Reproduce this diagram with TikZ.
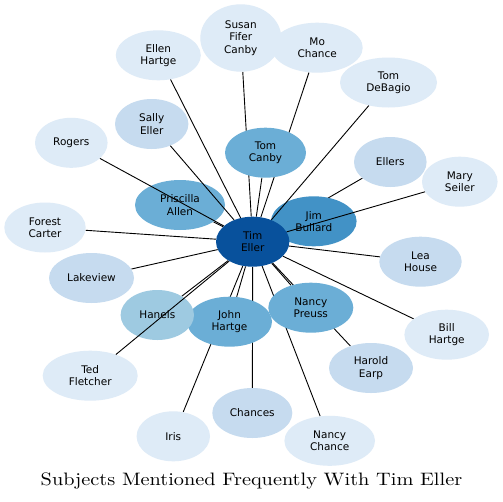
\documentclass[tikz,border=0pt]{standalone}
\usepackage{fontspec}
\newfontfamily\nodefont{DejaVu Sans}
\usetikzlibrary{shapes.geometric}
\pgfdeclarelayer{bg}
\pgfsetlayers{bg,main}
\definecolor{cA}{HTML}{08519C}
\definecolor{cB}{HTML}{4292C6}
\definecolor{cC}{HTML}{6BAED6}
\definecolor{cD}{HTML}{9ECAE1}
\definecolor{cE}{HTML}{C6DBEF}
\definecolor{cF}{HTML}{DEEBF7}
\tikzset{
  ent/.style={ellipse, draw=none, inner sep=0pt, align=center,
    font=\nodefont\fontsize{10.5}{12.3}\selectfont, text=black},
  e37/.style={ent, minimum width=73.4pt, minimum height=50pt},
  e40/.style={ent, minimum width=81pt, minimum height=50pt},
  e42/.style={ent, minimum width=85pt, minimum height=50pt},
  e45/.style={ent, minimum width=90.5pt, minimum height=50pt},
  link/.style={draw=black, line width=0.9pt},
}
\begin{document}
\begin{tikzpicture}[x=1pt,y=-1pt]
\begin{pgfonlayer}{bg}
\path[use as bounding box, fill=white] (0,0) rectangle (503,501);
\end{pgfonlayer}
% nodes
\node[e42, fill=cB, minimum width=85.6pt] (jim) at (313.8,221.3) {Jim\\Bullard};
\node[e37, fill=cA] (tim) at (252.7,241.7) {Tim\\Eller};
\node[e40, fill=cC] (tomc) at (265.5,152.7) {Tom\\Canby};
\node[e45, fill=cC, minimum width=90pt] (pris) at (180,205) {Priscilla\\Allen};
\node[e42, fill=cC] (john) at (229.5,321.7) {John\\Hartge};
\node[e42, fill=cC] (nancyp) at (310.8,307.7) {Nancy\\Preuss};
\node[e37, fill=cD] (hanels) at (157.3,315) {Hanels};
\node[e40, fill=cF, minimum height=67.4pt] (susan) at (240.8,38) {Susan\\Fifer\\Canby};
\node[e42, fill=cF] (ellenh) at (158.3,55.3) {Ellen\\Hartge};
\node[e45, fill=cF, minimum width=91pt] (mo) at (317.2,47.7) {Mo\\Chance};
\node[e45, fill=cF, minimum width=97pt] (debagio) at (388.5,82.5) {Tom\\DeBagio};
\node[e37, fill=cE] (sally) at (151.7,124) {Sally\\Eller};
\node[e37, fill=cF, minimum width=72.6pt] (rogers) at (71.3,142.8) {Rogers};
\node[e37, fill=cE, minimum width=72.6pt] (ellers) at (390.3,162) {Ellers};
\node[e37, fill=cF, minimum width=75.6pt] (mary) at (459.8,181.7) {Mary\\Seiler};
\node[e40, fill=cF, minimum width=81.4pt] (forest) at (45,227.5) {Forest\\Carter};
\node[e42, fill=cE] (lake) at (91.5,278) {Lakeview};
\node[e40, fill=cE, minimum width=82.4pt] (lea) at (420.5,261.7) {Lea\\House};
\node[e42, fill=cF, minimum width=84.6pt] (bill) at (446.7,334.7) {Bill\\Hartge};
\node[e42, fill=cE, minimum width=84pt] (harold) at (371,368) {Harold\\Earp};
\node[e45, fill=cF, minimum width=95pt] (ted) at (90.2,375.7) {Ted\\Fletcher};
\node[e37, fill=cF] (iris) at (173.3,436.3) {Iris};
\node[e40, fill=cE, minimum width=80pt] (chances) at (252.3,413) {Chances};
\node[e45, fill=cF, minimum width=90.6pt] (nancyc) at (329.7,440.8) {Nancy\\Chance};
% edges behind nodes
\begin{pgfonlayer}{bg}
\foreach \t in {jim,tomc,pris,john,nancyp,hanels,susan,ellenh,mo,ellers,forest,lake,lea,bill,harold,iris,chances,nancyc}
  \draw[link] (tim) -- (\t);
\end{pgfonlayer}
% edges over nodes
\foreach \t in {rogers,mary,debagio,ted,sally}
  \draw[link] (tim) -- (\t);
% title
\node[anchor=base, inner sep=0pt] (title) at (251.5,485.5) {\scalebox{2.03}[1.8]{\fontsize{10}{12}\selectfont Subjects Mentioned Frequently With Tim Eller}};
\end{tikzpicture}
\end{document}
